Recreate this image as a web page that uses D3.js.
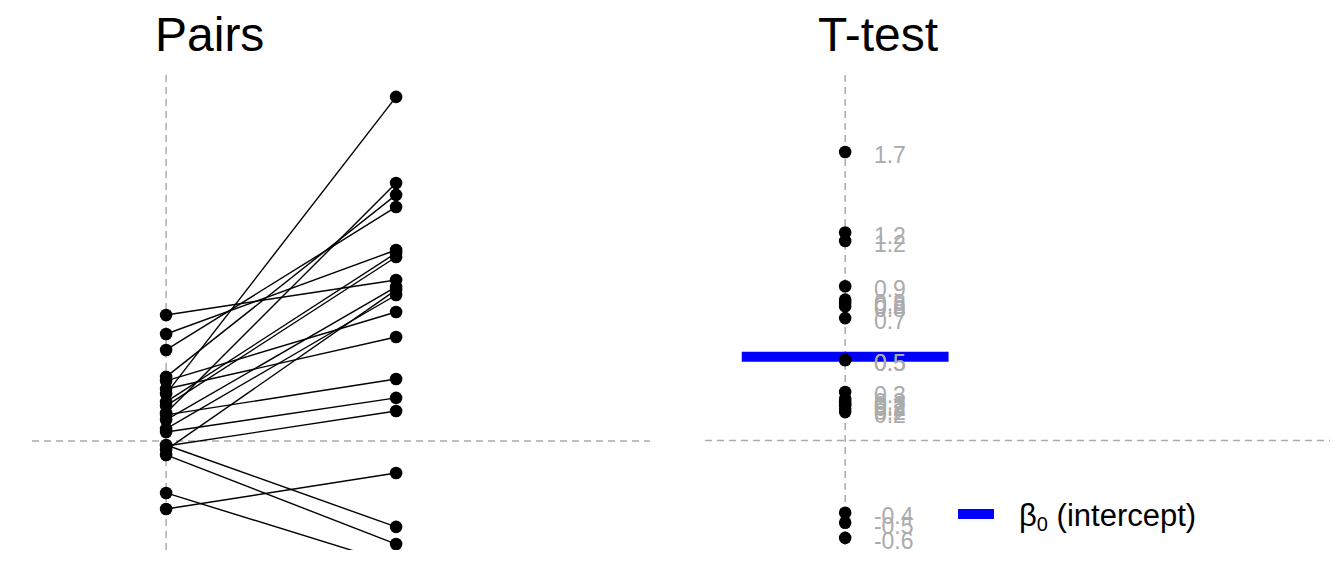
<!DOCTYPE html>
<html><head><meta charset="utf-8">
<script src="https://cdn.jsdelivr.net/npm/d3@7"></script>
<style>
body{margin:0;background:#fff}
svg{display:block}
text{font-family:"Liberation Sans",Arial,Helvetica,sans-serif}
</style>
</head><body>
<svg id="chart" width="1344" height="576"></svg>
<script>
// ---- data ----
const titles = ["Pairs", "T-test"];
const pairTimes = [0, 1];
const before = [0.269, 0.160, 0.366, 0.520, 0.611, 0.200, 0.720, 0.120, 0.069, 0.343,
                0.297, 0.149, 0.051, -0.029, -0.389, -0.023, -0.080, -0.297, 0.223, -0.051];
const after  = [1.966, 1.474, 1.406, 1.337, 1.091, 1.051, 0.920, 0.880, 0.834, 0.737,
                0.594, 0.354, 0.246, 0.171, -0.183, -0.491, -0.589, -0.703, 1.074, 0.863];
const diffs  = [1.72, 1.24, 1.19, 0.92, 0.84, 0.82, 0.80, 0.73, 0.48, 0.48,
                0.29, 0.25, 0.23, 0.22, 0.21, 0.19, 0.17, -0.43, -0.49, -0.58];
const intercept = 0.5;
const legendLabel = {symbol: "β", sub: "0", rest: " (intercept)"};

// ---- layout ----
const svg = d3.select("#chart");
const yTop = 75, yBot = 550;
const gray = "#ababab";
const dash = "7,5";

const xL = d3.scaleLinear().domain([-0.583, 2.104]).range([32, 650]);
const yL = d3.scaleLinear().domain([-0.623, 2.091]).range([yBot, yTop]);
const xR = d3.scaleLinear().domain([-0.61, 2.11]).range([705, 1330]);
const yR = d3.scaleLinear().domain([-0.652, 2.179]).range([yBot, yTop]);

svg.append("defs").append("clipPath").attr("id", "clipL")
  .append("rect").attr("x", xL.range()[0]).attr("y", yTop)
  .attr("width", xL.range()[1] - xL.range()[0]).attr("height", yBot - yTop);

// ---- left panel ----
const gL = svg.append("g");
gL.append("line").attr("x1", xL.range()[0]).attr("x2", xL.range()[1])
  .attr("y1", yL(0)).attr("y2", yL(0))
  .attr("stroke", gray).attr("stroke-width", 1.5).attr("stroke-dasharray", dash);
gL.append("line").attr("x1", xL(0)).attr("x2", xL(0))
  .attr("y1", yTop).attr("y2", yBot)
  .attr("stroke", gray).attr("stroke-width", 1.5).attr("stroke-dasharray", dash);

const pairs = before.map((b, i) => ({b, a: after[i]}));
const gLc = gL.append("g").attr("clip-path", "url(#clipL)");
gLc.selectAll("line.pair").data(pairs).join("line").attr("class", "pair")
  .attr("x1", xL(pairTimes[0])).attr("x2", xL(pairTimes[1]))
  .attr("y1", d => yL(d.b)).attr("y2", d => yL(d.a))
  .attr("stroke", "#000").attr("stroke-width", 1.4);
const pts = [];
pairs.forEach(d => { pts.push({x: pairTimes[0], y: d.b}); pts.push({x: pairTimes[1], y: d.a}); });
gLc.selectAll("circle").data(pts).join("circle")
  .attr("cx", d => xL(d.x)).attr("cy", d => yL(d.y)).attr("r", 6.3).attr("fill", "#000");

gL.append("text").attr("x", 155).attr("y", 51).attr("font-size", 48).attr("fill", "#000").text(titles[0]);

// ---- right panel ----
const gR = svg.append("g");
gR.append("line").attr("x1", xR.range()[0]).attr("x2", xR.range()[1])
  .attr("y1", yR(0)).attr("y2", yR(0))
  .attr("stroke", gray).attr("stroke-width", 1.5).attr("stroke-dasharray", dash);
gR.append("line").attr("x1", xR(0)).attr("x2", xR(0))
  .attr("y1", yTop).attr("y2", yBot - 5)
  .attr("stroke", gray).attr("stroke-width", 1.5).attr("stroke-dasharray", dash);

gR.append("line").attr("x1", xR(-0.45)).attr("x2", xR(0.45))
  .attr("y1", yR(intercept)).attr("y2", yR(intercept))
  .attr("stroke", "#0000ff").attr("stroke-width", 10);

gR.selectAll("circle").data(diffs).join("circle")
  .attr("cx", xR(0)).attr("cy", d => yR(d)).attr("r", 6.3).attr("fill", "#000");

gR.selectAll("text.lab").data(diffs).join("text").attr("class", "lab")
  .attr("x", xR(0.125)).attr("y", d => yR(d) + 11)
  .attr("font-size", 23).attr("fill", gray)
  .text(d => (Math.round(d * 10) / 10).toFixed(1));

gR.append("text").attr("x", 818).attr("y", 51).attr("font-size", 48).attr("fill", "#000").text(titles[1]);

// ---- legend ----
const lg = svg.append("g");
lg.append("rect").attr("x", 958).attr("y", 509).attr("width", 36).attr("height", 10).attr("fill", "#0000ff");
const lt = lg.append("text").attr("x", 1019).attr("y", 526).attr("font-size", 31).attr("fill", "#000");
lt.append("tspan").text(legendLabel.symbol);
lt.append("tspan").attr("font-size", 20).attr("dy", 5).text(legendLabel.sub);
lt.append("tspan").attr("dy", -5).text(legendLabel.rest);
</script>
</body></html>
